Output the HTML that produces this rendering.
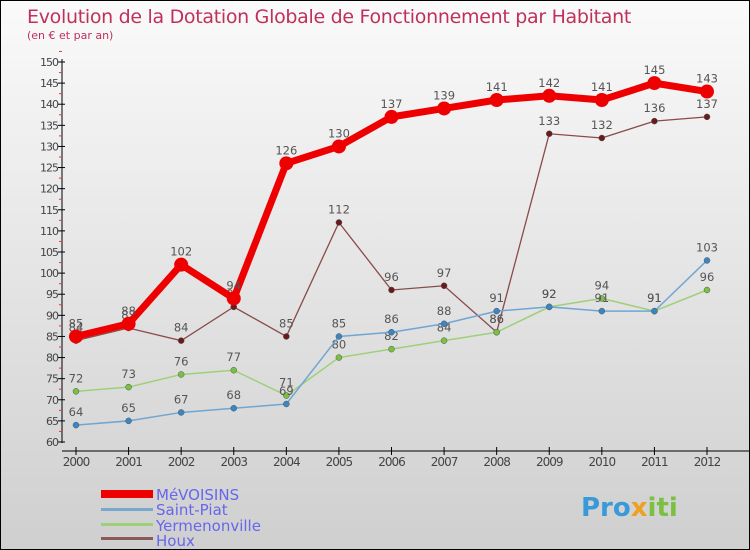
<!DOCTYPE html>
<html><head><meta charset="utf-8"><style>
body{margin:0}
#c{width:750px;height:550px;position:relative;box-sizing:border-box;border:1px solid #000;background:linear-gradient(#fafafa,#cfcfcf);font-family:"DejaVu Sans","Liberation Sans",sans-serif;overflow:hidden}
</style></head><body>
<div id="c">
<svg id="s" width="750" height="550" style="position:absolute;left:0;top:0">
<text x="26" y="22" font-size="19" fill="#c0305a" letter-spacing="-0.3">Evolution de la Dotation Globale de Fonctionnement par Habitant</text>
<text x="26" y="38" font-size="11" fill="#c0305a">(en € et par an)</text>
<line x1="61" y1="58" x2="61" y2="442" stroke="#000"/>
<line x1="61" y1="450" x2="750" y2="450" stroke="#000"/>
<g id="g"></g>
<g>
<rect x="100" y="489" width="52" height="8" fill="#e00"/>
<text x="155" y="499" font-size="15" fill="#6666ee">MéVOISINS</text>
<rect x="100" y="507" width="52" height="3" fill="#7aa8cc"/>
<text x="155" y="514" font-size="15" fill="#6666ee">Saint-Piat</text>
<rect x="100" y="522" width="52" height="3" fill="#9ed07a"/>
<text x="155" y="530" font-size="15" fill="#6666ee">Yermenonville</text>
<rect x="100" y="536" width="52" height="3" fill="#8a5a5a"/>
<text x="155" y="545" font-size="15" fill="#6666ee">Houx</text>
</g>
<text x="580" y="515" font-size="26" font-weight="bold" fill="#3a9ad9">Pro<tspan fill="#f0a020">x</tspan><tspan fill="#7ac043">iti</tspan></text>
</svg>
</div>
<script>
const years=[2000,2001,2002,2003,2004,2005,2006,2007,2008,2009,2010,2011,2012];
const yTicks=[60,65,70,75,80,85,90,95,100,105,110,115,120,125,130,135,140,145,150];
const mevoisins=[85,88,102,94,126,130,137,139,141,142,141,145,143];
const saintPiat=[64,65,67,68,69,85,86,88,91,92,91,91,103];
const yermenonville=[72,73,76,77,71,80,82,84,86,92,94,91,96];
const houx=[84,87,84,92,85,112,96,97,86,133,132,136,137];
const NS='http://www.w3.org/2000/svg';
const g=document.getElementById('g');
const X=i=>75+i*(706-75)/(years.length-1);
const Y=v=>441-(v-60)*380/90;
function mk(t,a){const e=document.createElementNS(NS,t);for(const k in a)e.setAttribute(k,a[k]);g.appendChild(e);return e;}
yTicks.forEach(v=>{
 const l=mk('line',{x1:57,x2:64,y1:Y(v),y2:Y(v),stroke:'#000'});
 
 
 const m=mk('line',{x1:58,x2:61,y1:Y(v+2.5),y2:Y(v+2.5),stroke:'#e33'});
 
 
 const t=mk('text',{x:57,y:Y(v)+4,'text-anchor':'end','font-size':11,fill:'#444','letter-spacing':'-1'});
 t.textContent=v;
 
 
});
years.forEach((y,i)=>{
 const l=mk('line',{x1:X(i),x2:X(i),y1:446,y2:454,stroke:'#000'});
 
 
 const t=mk('text',{x:X(i),y:465,'text-anchor':'middle','font-size':12,fill:'#444','letter-spacing':'-1'});
 t.textContent=y;
 
 
});
function series(d,name,col,w,r,dot){
 const p=mk('polyline',{points:d.map((v,i)=>X(i)+','+Y(v)).join(' '),fill:'none',stroke:col,'stroke-width':w});
 
 
 d.forEach((v,i)=>{
  const c=mk('circle',{cx:X(i),cy:Y(v),r:r,fill:dot,stroke:w>3?'none':'#555','stroke-width':0.5});
  
  
  const t=mk('text',{x:X(i),y:Y(v)-9,'text-anchor':'middle','font-size':11.5,fill:'#555'});
  t.textContent=v;
  
  
 });
}
series(houx,'houx','#8a4a4a',1.3,3,'#6a1a1a');
series(yermenonville,'yermenonville','#9ed07a',1.5,3,'#7ac043');
series(saintPiat,'saint-piat','#6fa6d4',1.5,3,'#3a86c4');
series(mevoisins,'mevoisins','#ee0000',7,7,'#ee0000');
</script>
</body></html>
